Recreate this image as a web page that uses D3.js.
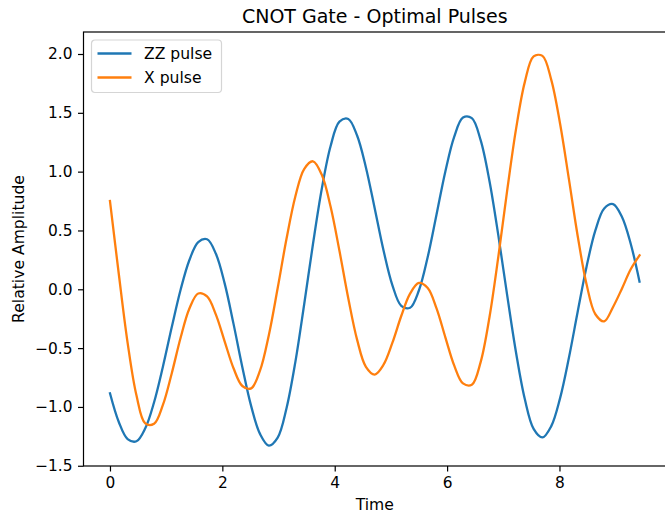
<!DOCTYPE html>
<html>
<head>
<meta charset="utf-8">
<script src="https://cdn.jsdelivr.net/npm/d3@7"></script>
<style>
  body { margin: 0; background: #ffffff; }
  svg { display: block; font-family: "DejaVu Sans", sans-serif; }
</style>
</head>
<body>
<div class="chartContainer"></div>
<script>

// time samples (0 .. 3 pi)
var times = [0, 0.157, 0.314, 0.471, 0.628, 0.785, 0.942, 1.100, 1.257, 1.414,
  1.571, 1.728, 1.885, 2.042, 2.199, 2.356, 2.513, 2.670, 2.827, 2.985,
  3.142, 3.299, 3.456, 3.613, 3.770, 3.927, 4.084, 4.241, 4.398, 4.555,
  4.712, 4.869, 5.027, 5.184, 5.341, 5.498, 5.655, 5.812, 5.969, 6.126,
  6.283, 6.440, 6.597, 6.754, 6.912, 7.069, 7.226, 7.383, 7.540, 7.697,
  7.854, 8.011, 8.168, 8.325, 8.482, 8.639, 8.796, 8.954, 9.111, 9.268, 9.425];

// ZZ pulse amplitude
var zzPulse = [-0.884, -1.128, -1.273, -1.292, -1.182, -0.960, -0.658, -0.321, -0.004, 0.249,
  0.401, 0.425, 0.302, 0.048, -0.294, -0.662, -0.993, -1.229, -1.328, -1.260,
  -1.011, -0.619, -0.129, 0.385, 0.855, 1.218, 1.425, 1.448, 1.307, 1.036,
  0.687, 0.330, 0.034, -0.140, -0.157, -0.010, 0.274, 0.636, 1.002, 1.296,
  1.460, 1.455, 1.268, 0.921, 0.458, -0.050, -0.535, -0.933, -1.186, -1.259,
  -1.163, -0.925, -0.582, -0.189, 0.192, 0.500, 0.687, 0.724, 0.616, 0.387, 0.065];

// X pulse amplitude
var xPulse = [0.750, 0.130, -0.455, -0.901, -1.140, -1.143, -0.983, -0.713, -0.412, -0.163,
  -0.036, -0.061, -0.215, -0.444, -0.671, -0.822, -0.842, -0.692, -0.390, 0.011,
  0.429, 0.789, 1.022, 1.088, 0.973, 0.701, 0.327, -0.076, -0.428, -0.659,
  -0.725, -0.641, -0.454, -0.227, -0.037, 0.054, 0.011, -0.162, -0.408, -0.647,
  -0.800, -0.812, -0.619, -0.238, 0.277, 0.838, 1.359, 1.761, 1.980, 1.984,
  1.780, 1.407, 0.936, 0.451, 0.043, -0.212, -0.272, -0.150, 0.005, 0.170, 0.288];

var seriesNames = ["ZZ pulse", "X pulse"];
var seriesColors = ["#1f77b4", "#ff7f0e"];

var xTicks = [0, 2, 4, 6, 8];
var yTicks = [-1.5, -1.0, -0.5, 0.0, 0.5, 1.0, 1.5, 2.0];

window.onload = function() {
  main();
};

function main() {
  // canvas size and the axes box
  var canvasWidth = 665,
      canvasHeight = 514,
      margin = { top: 32, right: -1, bottom: 48, left: 83.5 };

  var width = canvasWidth - margin.left - margin.right;
  var height = canvasHeight - margin.top - margin.bottom;

  var canvas = d3.select(".chartContainer")
    .append("svg")
    .attr("width", canvasWidth)
    .attr("height", canvasHeight);

  // scales (matplotlib style 5% padding)
  var xScale = d3.scaleLinear()
    .domain([-0.4712, 9.896])
    .range([margin.left, margin.left + width]);

  var yScale = d3.scaleLinear()
    .domain([-1.502, 2.187])
    .range([margin.top + height, margin.top]);

  // lines
  var line = d3.line()
    .x(function(d) { return xScale(d[0]); })
    .y(function(d) { return yScale(d[1]); })
    .curve(d3.curveCatmullRom.alpha(0.5));

  var allSeries = [zzPulse, xPulse];
  var plot = canvas.append("g");
  allSeries.forEach(function(values, i) {
    var points = times.map(function(t, j) { return [t, values[j]]; });
    plot.append("path")
      .datum(points)
      .attr("d", line)
      .attr("fill", "none")
      .attr("stroke", seriesColors[i])
      .attr("stroke-width", 2.3)
      .attr("stroke-linejoin", "round")
      .attr("stroke-linecap", "square");
  });

  // frame of the axes
  canvas.append("rect")
    .attr("x", margin.left)
    .attr("y", margin.top)
    .attr("width", width)
    .attr("height", height)
    .attr("fill", "none")
    .attr("stroke", "#000000")
    .attr("stroke-width", 1.2);

  // x axis
  var xAxis = d3.axisBottom(xScale)
    .tickValues(xTicks)
    .tickFormat(d3.format("d"))
    .tickSize(5.5)
    .tickPadding(5.5);

  var gx = canvas.append("g")
    .attr("transform", "translate(0," + (margin.top + height) + ")")
    .call(xAxis);

  // y axis
  var yAxis = d3.axisLeft(yScale)
    .tickValues(yTicks)
    .tickFormat(function(d) { return d3.format(".1f")(d).replace("-", "\u2212"); })
    .tickSize(5.5)
    .tickPadding(5.5);

  var gy = canvas.append("g")
    .attr("transform", "translate(" + margin.left + ",0)")
    .call(yAxis);

  [gx, gy].forEach(function(g) {
    g.select(".domain").remove();
    g.selectAll(".tick line").attr("stroke", "#000000").attr("stroke-width", 1.2);
    g.selectAll(".tick text")
      .attr("fill", "#000000")
      .style("font-size", "15.4px")
      .style("font-family", "DejaVu Sans");
  });

  // title
  canvas.append("text")
    .attr("x", margin.left + width / 2)
    .attr("y", 23)
    .style("text-anchor", "middle")
    .style("font-size", "19px")
    .text("CNOT Gate - Optimal Pulses");

  // x label
  canvas.append("text")
    .attr("x", margin.left + width / 2)
    .attr("y", 510)
    .style("text-anchor", "middle")
    .style("font-size", "15.6px")
    .text("Time");

  // y label
  canvas.append("text")
    .attr("transform", "rotate(-90)")
    .attr("x", -(margin.top + height / 2))
    .attr("y", 24)
    .style("text-anchor", "middle")
    .style("font-size", "15.6px")
    .text("Relative Amplitude");

  makeLegend(canvas);
}

function makeLegend(canvas) {
  // legend box in the upper left corner
  var legend = canvas.append("g")
    .attr("transform", "translate(91.5,40)");

  legend.append("rect")
    .attr("width", 130)
    .attr("height", 52.5)
    .attr("rx", 3.5)
    .attr("fill", "#ffffff")
    .attr("fill-opacity", 0.8)
    .attr("stroke", "#d5d5d5")
    .attr("stroke-width", 1.2);

  seriesNames.forEach(function(name, i) {
    var y = 13.5 + i * 24;
    legend.append("line")
      .attr("x1", 6)
      .attr("x2", 40)
      .attr("y1", y)
      .attr("y2", y)
      .attr("stroke", seriesColors[i])
      .attr("stroke-width", 2.3);
    legend.append("text")
      .attr("x", 52.5)
      .attr("y", y + 5.5)
      .style("font-size", "15.6px")
      .text(name);
  });
}
</script>
</body>
</html>
